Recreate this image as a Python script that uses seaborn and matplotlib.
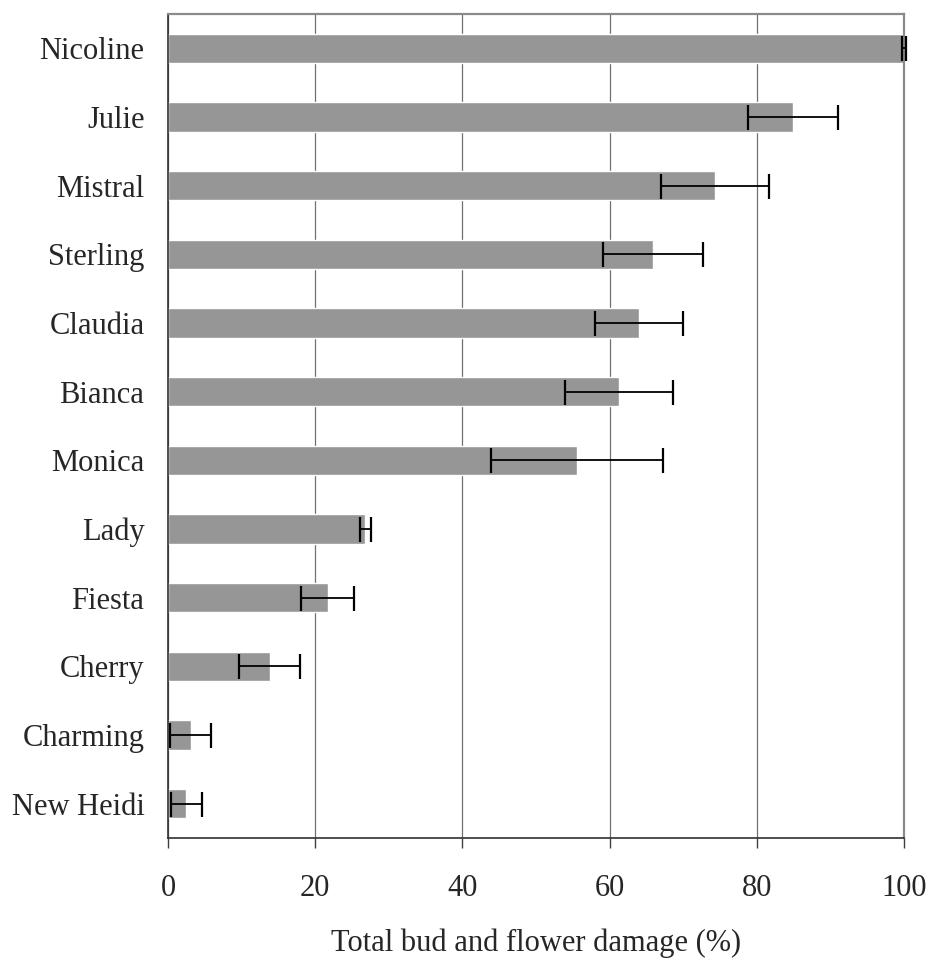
import numpy as np
import pandas as pd
import matplotlib as mpl
mpl.use("Agg")
import matplotlib.pyplot as plt
import seaborn as sns

# cultivars, top to bottom
cultivars = ["Nicoline", "Julie", "Mistral", "Sterling", "Claudia", "Bianca",
             "Monica", "Lady", "Fiesta", "Cherry", "Charming", "New Heidi"]
damage = [100.0, 84.9, 74.3, 65.9, 64.0, 61.3, 55.6, 26.8, 21.7, 13.8, 3.1, 2.5]
err = [0.3, 6.1, 7.3, 6.8, 6.0, 7.3, 11.7, 0.75, 3.6, 4.2, 2.8, 2.1]

df = pd.DataFrame({"cultivar": cultivars, "damage": damage, "err": err})

sns.set_theme(style="white")
plt.rcParams["font.family"] = ["Liberation Serif", "DejaVu Serif"]

fig = plt.figure(figsize=(9.34, 9.65), dpi=100)
ax = fig.add_axes([168 / 934, 1 - 838 / 965, (904 - 168) / 934, (838 - 14) / 965])

sns.barplot(data=df, y="cultivar", x="damage", orient="h", color="#969696",
            saturation=1, width=0.43, errorbar=None, ax=ax, zorder=2)
# error bars, lower side cut at zero
lo = np.minimum(df["err"], df["damage"])
ax.errorbar(df["damage"], np.arange(len(df)), xerr=[lo, df["err"]], fmt="none",
            ecolor="black", elinewidth=1.3, capsize=9, capthick=1.6, zorder=3,
            clip_on=False)

ax.set_xlim(0, 100)
ax.set_ylim(len(df) - 0.5, -0.5)
ax.set_xticks([0, 20, 40, 60, 80, 100])
ax.xaxis.grid(True, color="#707070", linewidth=0.9, zorder=0)
ax.set_axisbelow(True)

for side in ["top", "right"]:
    ax.spines[side].set_visible(True)
    ax.spines[side].set_color("#8a8a8a")
    ax.spines[side].set_linewidth(1.6)
ax.spines["left"].set_color("#303030")
ax.spines["bottom"].set_color("#303030")
ax.spines["left"].set_linewidth(1.2)
ax.spines["bottom"].set_linewidth(1.2)

ax.tick_params(axis="x", bottom=True, length=7, width=1, color="#404040",
               labelsize=22, pad=19)
ax.tick_params(axis="y", left=False, labelsize=22, pad=11)
ax.set_ylabel("")
ax.set_xlabel("Total bud and flower damage (%)", fontsize=22, labelpad=18)

fig.savefig("out.png", dpi=100)
